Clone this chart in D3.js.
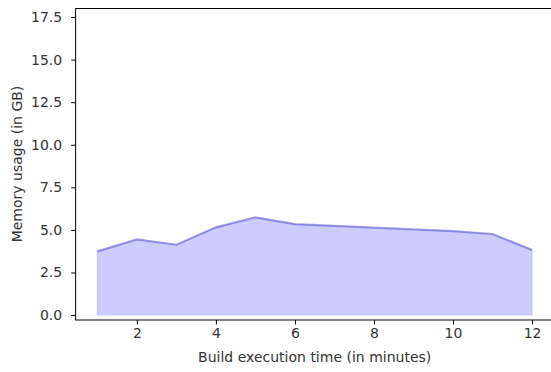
<!DOCTYPE html>
<html><head><meta charset="utf-8">
<script src="https://cdn.jsdelivr.net/npm/d3@7"></script>
<style>body{margin:0;background:#fff}svg{display:block}text{font-family:"DejaVu Sans",sans-serif}</style>
</head><body><svg id="c" width="551" height="372"></svg>
<script>
const minutes = [1,2,3,4,5,6,7,8,9,10,11,12];
const memoryGB = [3.74,4.44,4.13,5.15,5.74,5.34,5.24,5.13,5.03,4.93,4.76,3.82];
const xTicks = [2,4,6,8,10,12];
const yTicks = [0,2.5,5,7.5,10,12.5,15,17.5];

const svg = d3.select("#c");
const L = 75.6, R = 553.8, T = 8, B = 320;
const xs = d3.scaleLinear().domain([0.45, 12.55]).range([L, R]);
const ys = d3.scaleLinear().domain([-0.29, 18.03]).range([B, T]);

const data = minutes.map((m,i)=>({m, v: memoryGB[i]}));
const area = d3.area().x(d=>xs(d.m)).y0(ys(0)).y1(d=>ys(d.v));
const line = d3.line().x(d=>xs(d.m)).y(d=>ys(d.v));

svg.append("path").datum(data).attr("d", area)
  .attr("fill","blue").attr("fill-opacity",0.2)
  .attr("stroke","blue").attr("stroke-opacity",0.12).attr("stroke-width",1.25);
svg.append("path").datum(data).attr("d", line)
  .attr("fill","none").attr("stroke","#3030c0").attr("stroke-opacity",0.4).attr("stroke-width",2.2);

const FS = "14px";
const xAxis = d3.axisBottom(xs).tickValues(xTicks).tickFormat(d3.format("d")).tickSize(4.4).tickPadding(4);
const gx = svg.append("g").attr("transform",`translate(0,${B})`).call(xAxis);
const yAxis = d3.axisLeft(ys).tickValues(yTicks).tickFormat(d3.format(".1f")).tickSize(4.4).tickPadding(9);
const gy = svg.append("g").attr("transform",`translate(${L},0)`).call(yAxis);
[gx,gy].forEach(g=>{
  g.select(".domain").remove();
  g.selectAll(".tick line").attr("stroke","#000").attr("stroke-width",1);
  g.selectAll(".tick text").attr("fill","#333").attr("font-size",FS).attr("font-family","DejaVu Sans");
});

svg.append("rect").attr("x",L).attr("y",T+0.5).attr("width",R-L).attr("height",B-T-0.5)
  .attr("fill","none").attr("stroke","#000").attr("stroke-width",1);

svg.append("text").attr("x",(L+R)/2).attr("y",362).attr("text-anchor","middle")
  .attr("font-size",FS).attr("fill","#333").text("Build execution time (in minutes)");
svg.append("text").attr("transform",`translate(22,${(T+B)/2}) rotate(-90)`).attr("text-anchor","middle")
  .attr("font-size",FS).attr("fill","#333").text("Memory usage (in GB)");
</script></body></html>
